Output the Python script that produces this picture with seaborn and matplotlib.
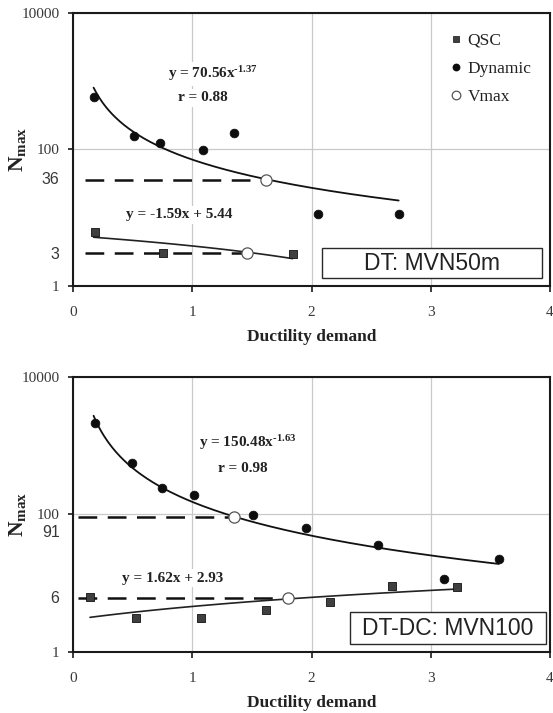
import numpy as np
import pandas as pd
import matplotlib
matplotlib.use("Agg")
import matplotlib.pyplot as plt
import seaborn as sns
from matplotlib.lines import Line2D
from matplotlib.patches import Rectangle
from matplotlib.ticker import NullLocator

# ---------------- data: top panel (DT: MVN50m) ----------------
top_qsc_x = [0.18, 0.75, 1.84]
top_qsc_y = [6.2, 3.0, 2.95]
top_dyn_x = [0.17, 0.51, 0.73, 1.09, 1.35, 2.05, 2.73]
top_dyn_y = [590, 157, 123, 97, 172, 11.2, 11.2]
top_vmax_x = [1.62, 1.46]
top_vmax_y = [36, 3]
top_pow_fit = [70.56, -1.37]
top_pow_range = [0.17, 2.73]
top_lin_fit = [-1.59, 5.44]
top_lin_range = [0.17, 1.84]
top_extra_labels = ["36", "3"]
top_title = "DT: MVN50m"
top_eq_pow = "y = 70.56x$^{\\text{-1.37}}$"
top_eq_r = "r = 0.88"
top_eq_lin = "y = -1.59x + 5.44"

# ---------------- data: bottom panel (DT-DC: MVN100) ----------------
bot_qsc_x = [0.14, 0.53, 1.07, 1.62, 2.15, 2.67, 3.22]
bot_qsc_y = [6.2, 3.05, 3.05, 4.1, 5.2, 9.0, 8.8]
bot_dyn_x = [0.18, 0.49, 0.74, 1.01, 1.51, 1.95, 2.56, 3.11, 3.57]
bot_dyn_y = [2140, 550, 243, 190, 97, 62, 35.6, 11.3, 22.3]
bot_vmax_x = [1.35, 1.80]
bot_vmax_y = [91, 6]
bot_pow_fit = [150.48, -1.63]
bot_pow_range = [0.17, 3.57]
bot_lin_fit = [1.62, 2.93]
bot_lin_range = [0.14, 3.22]
bot_extra_labels = ["91", "6"]
bot_title = "DT-DC: MVN100"
bot_eq_pow = "y = 150.48x$^{\\text{-1.63}}$"
bot_eq_r = "r = 0.98"
bot_eq_lin = "y = 1.62x + 2.93"

x_ticks = [0, 1, 2, 3, 4]
y_ticks = [1, 100, 10000]
legend_labels = ["QSC", "Dynamic", "Vmax"]
x_label = "Ductility demand"

# ---------------- style ----------------
sns.set_theme(style="white")
SERIF = ["Liberation Serif", "DejaVu Serif"]
SANS = ["Liberation Sans", "DejaVu Sans"]
plt.rcParams["font.family"] = SERIF
plt.rcParams["mathtext.fontset"] = "custom"
plt.rcParams["mathtext.rm"] = "Liberation Serif:bold"
plt.rcParams["mathtext.bf"] = "Liberation Serif:bold"
plt.rcParams["mathtext.it"] = "Liberation Serif:bold:italic"

TICK_COL = "#383838"
SQ_FACE = "#3f3f3f"

fig = plt.figure(figsize=(5.53, 7.13), dpi=100)
ax_top = fig.add_axes([0.1326, 0.5989, 0.862, 0.3833])
ax_bot = fig.add_axes([0.1326, 0.0860, 0.862, 0.3857])


def draw_panel(ax, qx, qy, dx, dy, vx, vy, pfit, prange, lfit, lrange,
               extra_labels, extra_offsets, title, box, eq_pow, eq_r, eq_lin,
               eq_pos, dash_start):
    ax.set_yscale("log")
    ax.set_xlim(0, 4)
    ax.set_ylim(1, 10000)

    # fitted trend lines (from the equations printed on the chart)
    xp = np.linspace(prange[0], prange[1], 200)
    sns.lineplot(x=xp, y=pfit[0] * xp ** pfit[1], ax=ax, color="#111111",
                 lw=1.3, sort=False, estimator=None, zorder=3)
    xl = np.linspace(lrange[0], lrange[1], 50)
    sns.lineplot(x=xl, y=lfit[0] * xl + lfit[1], ax=ax, color="#222222",
                 lw=1.2, sort=False, estimator=None, zorder=3)

    # dashed reference lines to the Vmax points
    for xs0, xe, yv in zip(dash_start, vx, vy):
        sns.lineplot(x=[xs0, xe], y=[yv, yv], ax=ax, color="#111111", lw=1.8,
                     linestyle=(0, (7.5, 4.2)), estimator=None, zorder=3)

    sns.scatterplot(x=qx, y=qy, ax=ax, marker="s", s=38, color=SQ_FACE,
                    edgecolor="#111111", linewidth=0.6, zorder=4,
                    legend=False, label=legend_labels[0])
    sns.scatterplot(x=dx, y=dy, ax=ax, marker="o", s=40, color="#0d0d0d",
                    edgecolor="#0d0d0d", linewidth=0.5, zorder=4,
                    legend=False, label=legend_labels[1])
    sns.scatterplot(x=vx, y=vy, ax=ax, marker="o", s=65, color="white",
                    edgecolor="#555555", linewidth=0.9, zorder=5,
                    legend=False, label=legend_labels[2])

    # axes cosmetics
    ax.grid(True, which="major", color="#c9c9c9", lw=0.9)
    ax.set_axisbelow(True)
    for sp in ax.spines.values():
        sp.set_visible(True)
        sp.set_color("#1a1a1a")
        sp.set_linewidth(1.5)
    ax.set_xticks(x_ticks)
    ax.set_xticklabels([str(t) for t in x_ticks])
    ax.set_yticks(y_ticks)
    ax.set_yticklabels([str(t) for t in y_ticks])
    ax.yaxis.set_minor_locator(NullLocator())
    ax.tick_params(axis="x", direction="out", length=4, width=1.2,
                   color="#1a1a1a", pad=10.3, labelsize=11, labelcolor=TICK_COL,
                   bottom=True)
    ax.tick_params(axis="y", direction="out", length=3.6, width=1.2,
                   color="#1a1a1a", pad=6.3, labelsize=11, labelcolor=TICK_COL,
                   left=True)
    for lab in ax.get_xticklabels() + ax.get_yticklabels():
        lab.set_fontfamily(SERIF)

    ax.set_xlabel(x_label, fontsize=12.5, fontweight="bold", color="#222222",
                  family=SERIF)
    ax.xaxis.set_label_coords(0.5, -0.158)
    ax.set_ylabel(r"$\mathbf{N}_{\mathbf{max}}$", fontsize=15.5, color="#222222")
    ax.yaxis.set_label_coords(-0.095, 0.5)

    # extra sans-serif level labels at the left
    for txt, yv, off in zip(extra_labels, vy, extra_offsets):
        ax.annotate(txt, xy=(0, yv), xycoords=("axes fraction", "data"),
                    xytext=(-9.9, off), textcoords="offset points",
                    ha="right", va="center", fontsize=11.5, color=TICK_COL,
                    family=SANS, annotation_clip=False)

    # equations
    bb = dict(boxstyle="square,pad=0.15", fc="white", ec="none")
    for (px, py), txt in zip(eq_pos, [eq_pow, eq_r, eq_lin]):
        ax.text(px, py, txt, transform=ax.transAxes,
                ha="center", va="center", fontsize=11, fontweight="bold",
                color="#222222", bbox=bb, zorder=6)

    # title box
    x0, x1, y0, y1 = box
    ax.add_patch(Rectangle((x0, y0), x1 - x0, y1 - y0, transform=ax.transAxes,
                           fc="white", ec="#2a2a2a", lw=1.0, zorder=6))
    ax.text((x0 + x1) / 2, (y0 + y1) / 2, title, transform=ax.transAxes,
            ha="center", va="center", fontsize=16.5, family=SANS,
            color="#222222", zorder=7)


draw_panel(ax_top, top_qsc_x, top_qsc_y, top_dyn_x, top_dyn_y,
           top_vmax_x, top_vmax_y, top_pow_fit, top_pow_range,
           top_lin_fit, top_lin_range, top_extra_labels, [0, -1],
           top_title, (0.521, 0.984, 0.028, 0.138),
           top_eq_pow, top_eq_r, top_eq_lin,
           [(0.293, 0.776), (0.272, 0.688), (0.222, 0.260)],
           [0.10, 0.10])

draw_panel(ax_bot, bot_qsc_x, bot_qsc_y, bot_dyn_x, bot_dyn_y,
           bot_vmax_x, bot_vmax_y, bot_pow_fit, bot_pow_range,
           bot_lin_fit, bot_lin_range, bot_extra_labels, [-11.5, 0],
           bot_title, (0.580, 0.991, 0.028, 0.143),
           bot_eq_pow, bot_eq_r, bot_eq_lin,
           [(0.3665, 0.760), (0.3548, 0.667), (0.208, 0.267)],
           [0.04, 0.04])

# legend (top panel only)
handles = [
    Line2D([], [], ls="none", marker="s", ms=4.4, mfc=SQ_FACE, mec="#111111", mew=0.5),
    Line2D([], [], ls="none", marker="o", ms=4.6, mfc="#0d0d0d", mec="#0d0d0d"),
    Line2D([], [], ls="none", marker="o", ms=6.2, mfc="white", mec="#555555", mew=0.9),
]
ax_top.legend(handles, legend_labels, loc="upper left",
              bbox_to_anchor=(0.792, 0.927), frameon=False, fontsize=12.5,
              handlelength=0.6, handletextpad=0.35, labelspacing=0.70,
              borderpad=0, borderaxespad=0, labelcolor="#222222")

fig.savefig("out.png", dpi=100)
